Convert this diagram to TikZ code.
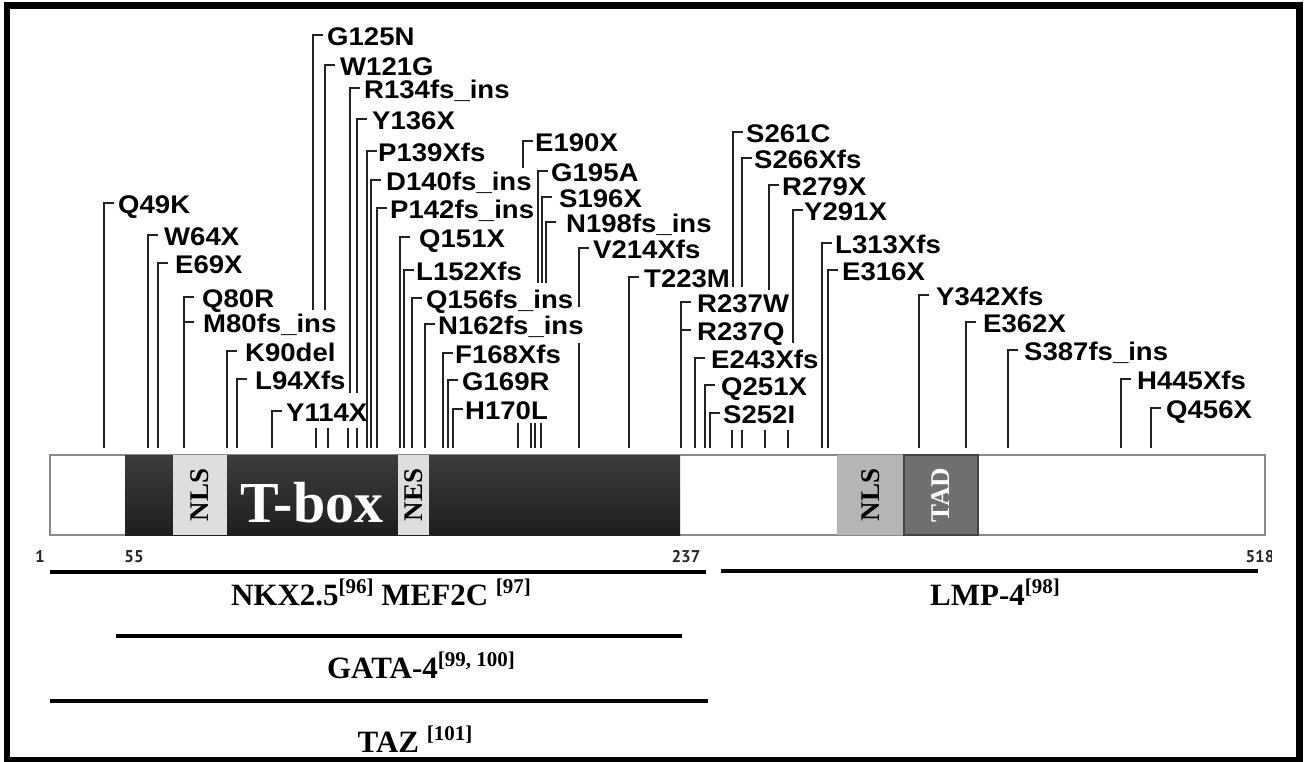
\documentclass[tikz,border=0pt]{standalone}
\usepackage{fontspec}
\setmainfont{Liberation Serif}
\newfontfamily\labfont[FakeStretch=1.08]{Liberation Sans}
\newfontfamily\numfont{PT Sans}
\definecolor{leadc}{HTML}{222222}
\definecolor{lightbox}{HTML}{DEDEDE}
\definecolor{nlsgray}{HTML}{B5B5B5}
\definecolor{tadgray}{HTML}{6F6F6F}
\definecolor{barline}{HTML}{8A8A8A}
\newcommand\sref[1]{\raisebox{12pt}{\fontsize{21}{21}\selectfont #1}}
% name, x, tick y, text x, label
\newcommand\mutfull[5]{%
  \draw[lead] (#2,448) -- (#2,#3) -- (#2+10,#3);
  \node[mut] (#1) at (#4-1,#3+10) {#5};}
% name, x, tick y, text x, label, upper end, stub x, stub start
\newcommand\mutbrk[8]{%
  \draw[lead] (#2,#6) -- (#2,#3) -- (#2+10,#3);
  \draw[lead] (#7,#8) -- (#7,448);
  \node[mut] (#1) at (#4-1,#3+10) {#5};}
% extra tick on an existing line
\newcommand\muttick[5]{%
  \draw[lead] (#2,#3) -- (#2+10,#3);
  \node[mut] (#1) at (#4-1,#3+10) {#5};}
\begin{document}
\begin{tikzpicture}[x=1pt,y=-1pt,
  lead/.style={line width=1.7pt, draw=leadc},
  mut/.style={font=\labfont\bfseries\fontsize{25.5}{25.5}\selectfont, inner sep=0pt, anchor=base west},
  vlab/.style={font=\bfseries\fontsize{27}{27}\selectfont, rotate=90, inner sep=0pt},
  num/.style={font=\numfont\bfseries\fontsize{17}{17}\selectfont, inner sep=0pt, anchor=base, text=black!85},
  refline/.style={line width=3.5pt, draw=black},
  reftext/.style={font=\bfseries\fontsize{31}{31}\selectfont, inner sep=0pt, anchor=base}]
\useasboundingbox (0,0) rectangle (1308,761);
\fill[white] (0,0) rectangle (1308,761);

% ---------------- protein bar ----------------
\draw[barline, line width=1.5pt, fill=white] (50,455) rectangle (1265,535);
\shade[top color={rgb,255:red,60;green,60;blue,60}, bottom color={rgb,255:red,30;green,30;blue,30}] (125,455) rectangle (680,535);
\fill[lightbox] (173,455) rectangle (227,535);
\fill[lightbox] (398,455) rectangle (429,535);
\fill[nlsgray] (837,455) rectangle (904,535);
\draw[fill=tadgray, draw={rgb,255:red,68;green,68;blue,68}, line width=1.5pt] (904,455) rectangle (978,535);

\node[vlab] (nls1) at (200,495) {NLS};
\node[vlab] (nes) at (413.5,495) {NES};
\node[font=\bfseries\fontsize{58}{58}\selectfont, text=white, inner sep=0pt, anchor=base] (tbox) at (312,522) {T-box};
\node[vlab] (nls2) at (870.5,495) {NLS};
\node[vlab, text=white] (tad) at (941,495) {TAD};

% position numbers
\node[num] (p1) at (40,562) {1};
\node[num] (p55) at (134,562) {55};
\node[num] (p237) at (686,562) {237};
\begin{scope}
\clip (1200,540) rectangle (1271,580);
\node[num] (p518) at (1260,562) {518};
\end{scope}

% ---------------- mutations ----------------
\mutfull{m1}{104}{203}{119}{Q49K}
\mutfull{m2}{148}{235}{165}{W64X}
\mutfull{m3}{158}{263}{176}{E69X}
\mutfull{m4}{184}{297}{203}{Q80R}
\muttick{m4b}{184}{322}{204}{M80fs\_ins}
\mutfull{m5}{227}{351}{246}{K90del}
\mutfull{m6}{237}{379}{256}{L94Xfs}
\mutfull{m7}{272}{411}{287}{Y114X}
\mutbrk{m8}{313}{35}{328}{G125N}{310}{316}{428}
\mutbrk{m9}{325}{65}{341}{W121G}{310}{328}{428}
\mutbrk{m10}{350}{88}{365}{R134fs\_ins}{393}{348}{428}
\mutbrk{m11}{357}{119}{373}{Y136X}{393}{357}{428}
\mutfull{m12}{367}{151}{379}{P139Xfs}
\mutfull{m13}{371}{180}{387}{D140fs\_ins}
\mutfull{m14}{377}{208}{391}{P142fs\_ins}
\mutfull{m15}{400}{237}{420}{Q151X}
\mutfull{m16}{404}{270}{417}{L152Xfs}
\mutfull{m17}{412}{298}{427}{Q156fs\_ins}
\mutfull{m18}{425}{324}{439}{N162fs\_ins}
\mutfull{m19}{443}{353}{456}{F168Xfs}
\mutfull{m20}{448}{380}{463}{G169R}
\mutfull{m21}{453}{409}{466}{H170L}
\mutbrk{m22}{523}{141}{536}{E190X}{168}{518}{423}
\mutbrk{m23}{538}{171}{552}{G195A}{283}{531}{423}
\mutbrk{m24}{542}{197}{560}{S196X}{283}{535}{423}
\mutbrk{m25}{546}{222}{567}{N198fs\_ins}{283}{541}{423}
\mutbrk{m26}{579}{248}{594}{V214Xfs}{307}{579}{343}
\mutfull{m27}{629}{277}{645}{T223M}
\mutfull{m28}{681}{302}{698}{R237W}
\muttick{m28b}{681}{330}{698}{R237Q}
\mutfull{m29}{695}{358}{712}{E243Xfs}
\mutfull{m30}{705}{385}{722}{Q251X}
\mutfull{m31}{710}{413}{724}{S252I}
\mutbrk{m32}{733}{132}{747}{S261C}{287}{732}{430}
\mutbrk{m33}{742}{158}{755}{S266Xfs}{287}{742}{430}
\mutbrk{m34}{769}{185}{783}{R279X}{290}{765}{430}
\mutbrk{m35}{793}{210}{805}{Y291X}{343}{788}{430}
\mutfull{m36}{822}{243}{836}{L313Xfs}
\mutfull{m37}{828}{270}{843}{E316X}
\mutfull{m38}{919}{295}{937}{Y342Xfs}
\mutfull{m39}{966}{322}{984}{E362X}
\mutfull{m40}{1008}{350}{1025}{S387fs\_ins}
\mutfull{m41}{1121}{379}{1138}{H445Xfs}
\mutfull{m42}{1151}{408}{1167}{Q456X}

% ---------------- interaction partners ----------------
\draw[refline] (50,572) -- (706,572);
\draw[refline] (721,571) -- (1258,571);
\draw[refline] (116,636) -- (682,636);
\draw[refline] (50,701) -- (708,701);
\node[reftext] (nkx) at (381,605) {NKX2.5\sref{[96]} MEF2C \sref{[97]}};
\node[reftext] (lmp) at (995,605) {LMP-4\sref{[98]}};
\node[reftext] (gata) at (421,678) {GATA-4\sref{[99, 100]}};
\node[reftext] (taz) at (415,752) {TAZ \sref{[101]}};

% frame
\draw[line width=6.5pt] (7,5.5) rectangle (1299.5,760.5);
\end{tikzpicture}
\end{document}
